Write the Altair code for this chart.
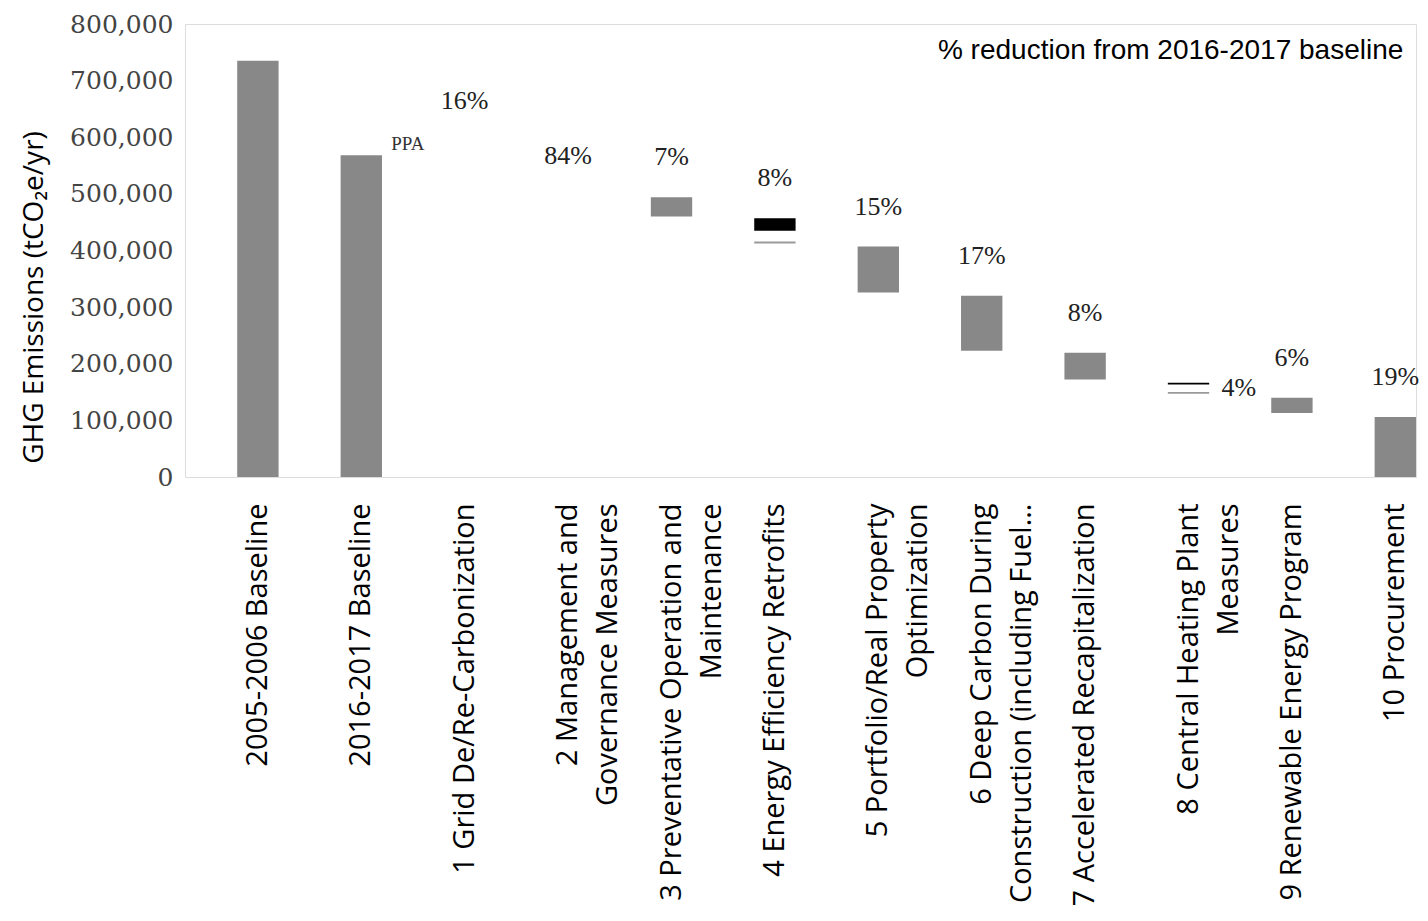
import altair as alt
import pandas as pd

# ---------------- data ----------------
categories = [
    "2005-2006 Baseline",
    "2016-2017 Baseline",
    "1 Grid De/Re-Carbonization",
    "2 Management and\nGovernance Measures",
    "3 Preventative Operation and\nMaintenance",
    "4 Energy Efficiency Retrofits",
    "5 Portfolio/Real Property\nOptimization",
    "6 Deep Carbon During\nConstruction (including Fuel...",
    "7 Accelerated Recapitalization",
    "8 Central Heating Plant\nMeasures",
    "9 Renewable Energy Program",
    "10 Procurement",
]

# visible bar segments of the waterfall
seg_category = [
    categories[0], categories[1], categories[4], categories[5], categories[5],
    categories[6], categories[7], categories[8], categories[9], categories[9],
    categories[10], categories[11],
]
seg_low = [0, 0, 460000, 435000, 412500, 326000, 223000, 172000, 163500, 147000, 113000, 0]
seg_high = [735000, 568000, 494000, 457000, 416000, 407000, 320000, 219500, 166500, 150000, 140000, 106000]
seg_shade = ["gray", "gray", "gray", "black", "light", "gray", "gray", "gray", "black", "light", "gray", "gray"]

# percentage labels (% reduction from 2016-2017 baseline)
pct_category = categories[2:]
pct_text = ["16%", "84%", "7%", "8%", "15%", "17%", "8%", "4%", "6%", "19%"]
pct_anchor = [593000, 497000, 494000, 457000, 407000, 320000, 219500, 166500, 140000, 106000]
pct_side = ["above", "above", "above", "above", "above", "above", "above", "right", "above", "above"]

ppa_category = [categories[1]]
ppa_text = ["PPA"]
ppa_anchor = [568000]

note_category = [categories[-1]]
note_text = ["% reduction from 2016-2017 baseline"]
note_anchor = [752000]

y_ticks = [0, 100000, 200000, 300000, 400000, 500000, 600000, 700000, 800000]

# ---------------- chart ----------------
seg_df = pd.DataFrame({"category": seg_category, "low": seg_low, "high": seg_high, "shade": seg_shade})
pct_df = pd.DataFrame({"category": pct_category, "text": pct_text, "anchor": pct_anchor, "side": pct_side})
ppa_df = pd.DataFrame({"category": ppa_category, "text": ppa_text, "anchor": ppa_anchor})
note_df = pd.DataFrame({"category": note_category, "text": note_text, "anchor": note_anchor})

x_enc = alt.X(
    "category:N",
    sort=categories,
    scale=alt.Scale(domain=categories, paddingInner=0.6, paddingOuter=0.2525, align=1),
    axis=alt.Axis(
        title=None,
        labelAngle=-90,
        labelExpr="split(datum.label, '\\n')",
        labelFont="Open Sans",
        labelFontSize=29,
        labelLineHeight=40,
        labelColor="#000000",
        labelLimit=1000,
        labelPadding=26,
        labelOverlap=False,
        ticks=False,
        tickSize=0,
        domain=False,
        grid=False,
    ),
)

y_scale = alt.Scale(domain=[0, 800000], nice=False, zero=True)

bars = alt.Chart(seg_df).mark_bar().encode(
    x=x_enc,
    y=alt.Y(
        "low:Q",
        scale=y_scale,
        axis=alt.Axis(
            title="GHG Emissions (tCO\u2082e/yr)",
            titleFont="Open Sans",
            titleFontSize=28,
            titleFontWeight="normal",
            titleColor="#000000",
            titleX=-151,
            titleY=273,
            titleAngle=-90,
            titleAlign="center",
            titleBaseline="middle",
            values=y_ticks,
            format=",.0f",
            labelFont="DejaVu Serif",
            labelFontSize=25,
            labelColor="#444444",
            labelPadding=12,
            ticks=False,
            tickSize=0,
            domain=False,
            grid=False,
        ),
    ),
    y2="high:Q",
    color=alt.Color(
        "shade:N",
        scale=alt.Scale(domain=["gray", "black", "light"], range=["#888888", "#000000", "#9a9a9a"]),
        legend=None,
    ),
)

pct_above = alt.Chart(pct_df).transform_filter(alt.datum.side == "above").mark_text(
    font="Liberation Serif", fontSize=26, color="#222222", align="center", baseline="middle", dy=-40
).encode(
    x=alt.X("category:N", sort=categories),
    y=alt.Y("anchor:Q", scale=y_scale),
    text="text:N",
)

pct_right = alt.Chart(pct_df).transform_filter(alt.datum.side == "right").mark_text(
    font="Liberation Serif", fontSize=26, color="#222222", align="left", baseline="middle", dx=33, dy=5
).encode(
    x=alt.X("category:N", sort=categories),
    y=alt.Y("anchor:Q", scale=y_scale),
    text="text:N",
)

ppa = alt.Chart(ppa_df).mark_text(
    font="Liberation Serif", fontSize=19, color="#333333", align="left", baseline="middle", dx=30, dy=-11
).encode(
    x=alt.X("category:N", sort=categories),
    y=alt.Y("anchor:Q", scale=y_scale),
    text="text:N",
)

note = alt.Chart(note_df).mark_text(
    font="Liberation Sans", fontSize=28, color="#000000", align="right", baseline="middle", dx=8
).encode(
    x=alt.X("category:N", sort=categories),
    y=alt.Y("anchor:Q", scale=y_scale),
    text="text:N",
)

chart = alt.layer(bars, pct_above, pct_right, ppa, note).properties(
    width=1231,
    height=453,
    autosize=alt.AutoSizeParams(type="none"),
    padding={"left": 177, "top": 16, "right": 4, "bottom": 428},
).configure_view(stroke=None).configure(background="white")

chart.save("out.html", embed_options={"renderer": "svg", "actions": False})
